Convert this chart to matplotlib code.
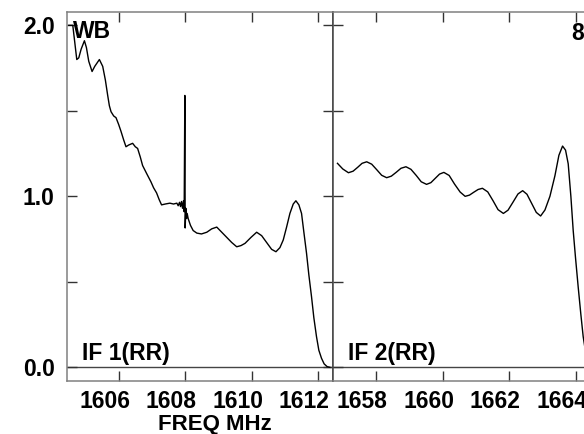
import numpy as np
import matplotlib
matplotlib.use("Agg")
import matplotlib.pyplot as plt
import matplotlib.transforms as mtransforms

# ---- data (freq in MHz, amplitude) ----
if1_freq = [1604.50, 1604.62, 1604.68, 1604.74, 1604.80, 1604.87, 1604.97, 1605.03,
            1605.10, 1605.20, 1605.28, 1605.35, 1605.42, 1605.52, 1605.60, 1605.67,
            1605.72, 1605.77, 1605.85, 1605.92, 1606.00, 1606.07, 1606.15, 1606.22,
            1606.30, 1606.42, 1606.50, 1606.57, 1606.65, 1606.72, 1606.85, 1606.97,
            1607.05, 1607.14, 1607.22, 1607.29, 1607.40, 1607.54, 1607.65, 1607.75,
            1607.79, 1607.83, 1607.86, 1607.89, 1607.92, 1607.95, 1607.97, 1607.99,
            1608.00, 1608.02, 1608.04, 1608.06, 1608.09, 1608.16, 1608.24, 1608.35,
            1608.49, 1608.65, 1608.80, 1608.95, 1609.10, 1609.25, 1609.40, 1609.55,
            1609.68, 1609.80, 1609.98, 1610.15, 1610.30, 1610.45, 1610.60, 1610.73,
            1610.85, 1610.95, 1611.05, 1611.15, 1611.25, 1611.33, 1611.42, 1611.50,
            1611.57, 1611.65, 1611.72, 1611.80, 1611.87, 1611.95, 1612.02, 1612.10,
            1612.18, 1612.27, 1612.35]
if1_amp = [2.00, 2.00, 1.90, 1.80, 1.81, 1.86, 1.91, 1.87,
           1.79, 1.73, 1.76, 1.78, 1.80, 1.76, 1.68, 1.59,
           1.53, 1.495, 1.47, 1.46, 1.42, 1.38, 1.33, 1.29,
           1.30, 1.31, 1.29, 1.28, 1.23, 1.18, 1.13, 1.085,
           1.05, 1.02, 0.98, 0.95, 0.955, 0.96, 0.955, 0.96,
           0.945, 0.965, 0.94, 0.97, 0.93, 0.975, 0.91, 1.59,
           0.815, 0.93, 0.87, 0.90, 0.87, 0.83, 0.80, 0.785,
           0.78, 0.79, 0.81, 0.82, 0.79, 0.76, 0.73, 0.705,
           0.712, 0.725, 0.76, 0.79, 0.77, 0.73, 0.69, 0.676,
           0.70, 0.745, 0.82, 0.90, 0.955, 0.974, 0.95, 0.90,
           0.79, 0.667, 0.54, 0.413, 0.29, 0.179, 0.10, 0.053,
           0.02, 0.004, 0.0]

if2_freq = [1656.84, 1657.00, 1657.17, 1657.31, 1657.45, 1657.58, 1657.72, 1657.87,
            1658.02, 1658.17, 1658.32, 1658.46, 1658.61, 1658.75, 1658.90, 1659.05,
            1659.21, 1659.36, 1659.52, 1659.65, 1659.78, 1659.91, 1660.04, 1660.20,
            1660.36, 1660.53, 1660.68, 1660.81, 1660.94, 1661.07, 1661.20, 1661.36,
            1661.52, 1661.67, 1661.83, 1661.97, 1662.12, 1662.27, 1662.41, 1662.54,
            1662.68, 1662.82, 1662.95, 1663.08, 1663.23, 1663.38, 1663.50, 1663.61,
            1663.70, 1663.78, 1663.86, 1663.93, 1664.00, 1664.08, 1664.16, 1664.23,
            1664.31, 1664.40, 1664.50]
if2_amp = [1.193, 1.16, 1.138, 1.147, 1.170, 1.193, 1.202, 1.188,
           1.156, 1.123, 1.109, 1.118, 1.141, 1.164, 1.173, 1.158,
           1.122, 1.085, 1.070, 1.080, 1.105, 1.130, 1.140, 1.122,
           1.072, 1.025, 1.000, 1.007, 1.024, 1.040, 1.047, 1.026,
           0.974, 0.922, 0.900, 0.919, 0.966, 1.014, 1.033, 1.012,
           0.959, 0.906, 0.885, 0.92, 1.00, 1.12, 1.24, 1.294,
           1.27, 1.19, 1.00, 0.80, 0.64, 0.47, 0.31, 0.18,
           0.08, 0.02, 0.0]

xticks1 = [1606, 1608, 1610, 1612]
xticks2 = [1658, 1660, 1662, 1664]
yticks = [0.0, 0.5, 1.0, 1.5, 2.0]
ylabels = ["0.0", "", "1.0", "", "2.0"]

plt.rcParams["font.family"] = ["Liberation Sans", "DejaVu Sans"]
plt.rcParams["font.weight"] = "bold"

W, H = 584, 434
fig = plt.figure(figsize=(W / 100, H / 100), dpi=100)
left, bot, pw, ph = 67, 434 - 381, 266, 369
ax1 = fig.add_axes([left / W, bot / H, pw / W, ph / H])
ax2 = fig.add_axes([(left + pw) / W, bot / H, pw / W, ph / H])

spine_c = "#808080"
fs = 16.5
# tick labels sit a little left of their ticks in the reference, so they are
# drawn as plain texts with an offset
shift = mtransforms.ScaledTranslation(-14 / 100, -27.3 / 100, fig.dpi_scale_trans)

for ax, fr, am, xt, x0, lab in [(ax1, if1_freq, if1_amp, xticks1, 1604.446, "IF 1(RR)"),
                                 (ax2, if2_freq, if2_amp, xticks2, 1656.706, "IF 2(RR)")]:
    ax.axhline(0.0, color="#444444", lw=1.0, zorder=1)
    ax.plot(fr, am, color="black", lw=1.0, zorder=3)
    ax.set_xlim(x0, x0 + 8.0)
    ax.set_ylim(-0.080, 2.078)
    ax.set_xticks(xt)
    ax.set_xticklabels([])
    for v in xt:
        ax.text(v, 0, str(v), transform=ax.get_xaxis_transform() + shift,
                fontsize=fs, fontweight="bold", ha="center", va="baseline",
                clip_on=False)
    ax.set_yticks(yticks)
    ax.tick_params(axis="both", direction="in", length=7, width=1.0,
                   color="#333333", top=True, right=True)
    ax.tick_params(axis="y", pad=9)
    for s in ax.spines.values():
        s.set_color(spine_c)
        s.set_linewidth(1.1)
    ax.text(0.057, 0.057, lab, transform=ax.transAxes, fontsize=fs,
            fontweight="bold", va="baseline", ha="left")

ax1.set_yticklabels(ylabels, fontsize=fs, fontweight="bold")
ax2.set_yticklabels([])
ax1.spines["right"].set_color("#444444")
ax2.spines["left"].set_color("#444444")

ax1.text(0.021, 0.929, "WB", transform=ax1.transAxes, fontsize=fs,
         fontweight="bold", va="baseline", ha="left")
ax2.text(0.894, 0.924, "8", transform=ax2.transAxes, fontsize=fs,
         fontweight="bold", va="baseline", ha="left")

fig.text(215 / W, 4 / H, "FREQ MHz", fontsize=16, fontweight="bold",
         ha="center", va="baseline")

fig.savefig("out.png", dpi=100)
